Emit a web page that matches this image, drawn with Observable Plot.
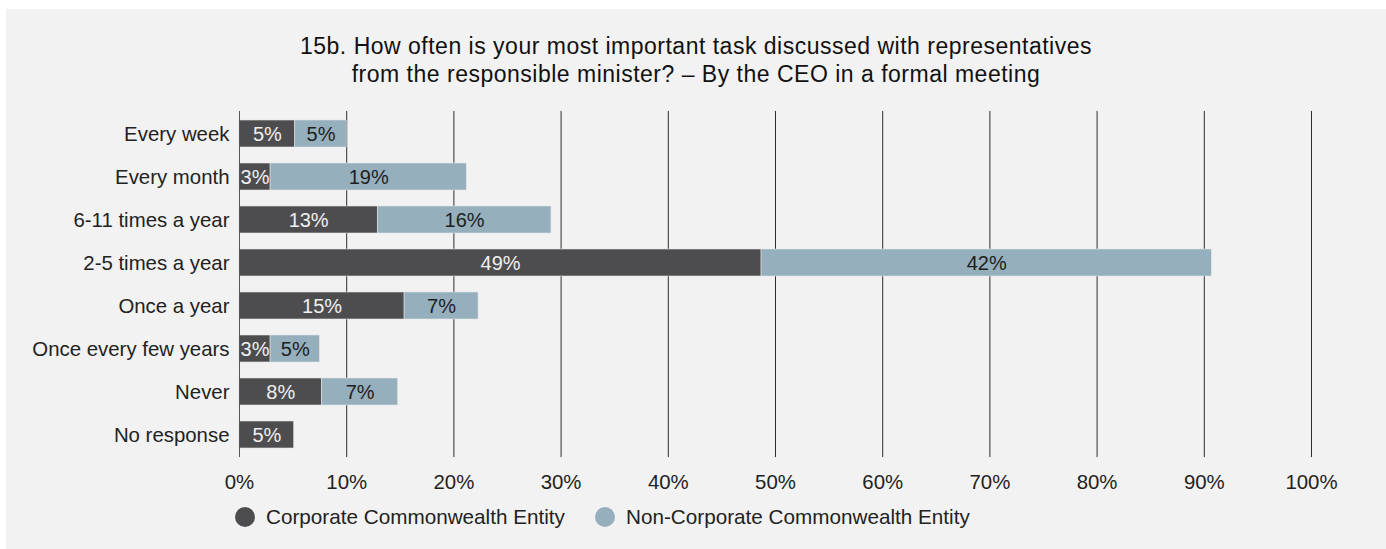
<!DOCTYPE html>
<html>
<head>
<meta charset="utf-8">
<script src="https://cdn.jsdelivr.net/npm/d3@7"></script>
<script src="https://cdn.jsdelivr.net/npm/@observablehq/plot@0.6"></script>
<style>
  html, body { margin: 0; padding: 0; background: #ffffff; }
  #panel {
    position: absolute; left: 6px; top: 9px; width: 1380px; height: 540px;
    background: #f2f2f2; font-family: "Liberation Sans", Arial, sans-serif;
  }
  #title {
    margin-top: 23px; text-align: center; font-size: 23px; letter-spacing: 0.5px; line-height: 28px; color: #111;
  }
  #chart { margin-top: 12px; height: 397px; }
  #chart svg { display: block; }
  #legend {
    margin-top: 10px; padding-left: 229px; display: flex; align-items: center;
    font-size: 20.7px; color: #222; height: 20px; line-height: 20px;
  }
  .sw { width: 20px; height: 20px; border-radius: 50%; display: inline-block; margin-right: 11px; }
  .item { display: flex; align-items: center; margin-right: 30px; }
</style>
</head>
<body>
<div id="panel">
  <div id="title">15b. How often is your most important task discussed with representatives<br>from the responsible minister? – By the CEO in a formal meeting</div>
  <div id="chart"></div>
  <div id="legend"></div>
</div>
<script>
const categories = ["Every week", "Every month", "6-11 times a year", "2-5 times a year", "Once a year", "Once every few years", "Never", "No response"];
const seriesNames = ["Corporate Commonwealth Entity", "Non-Corporate Commonwealth Entity"];
const seriesColors = ["#4d4d4f", "#95afbd"];
const corporate = [5.2, 2.9, 12.9, 48.7, 15.4, 2.9, 7.7, 5.1];
const nonCorporate = [4.8, 18.3, 16.2, 42.0, 6.9, 4.6, 7.1, 0];
const corporateLabels = ["5%", "3%", "13%", "49%", "15%", "3%", "8%", "5%"];
const nonCorporateLabels = ["5%", "19%", "16%", "42%", "7%", "5%", "7%", ""];
const xTicks = [0, 10, 20, 30, 40, 50, 60, 70, 80, 90, 100];
const xTickLabels = ["0%", "10%", "20%", "30%", "40%", "50%", "60%", "70%", "80%", "90%", "100%"];

const rows = [];
categories.forEach((c, i) => {
  rows.push({category: c, series: seriesNames[0], value: corporate[i], label: corporateLabels[i]});
  rows.push({category: c, series: seriesNames[1], value: nonCorporate[i], label: nonCorporateLabels[i]});
});

const font = "Liberation Sans, Arial, sans-serif";

const chart = Plot.plot({
  width: 1380,
  height: 397,
  marginLeft: 233,
  marginRight: 75,
  marginTop: 11,
  marginBottom: 40,
  style: {background: "transparent", fontFamily: font, fontSize: "20.4px", color: "#222"},
  x: {domain: [0, 100], label: null, ticks: xTicks, tickFormat: d => xTickLabels[xTicks.indexOf(d)], tickSize: 0, tickPadding: 17},
  y: {domain: categories, label: null, paddingInner: 0.37, paddingOuter: 0.185, tickSize: 0, tickPadding: 10},
  color: {domain: seriesNames, range: seriesColors},
  marks: [
    Plot.ruleX(xTicks.slice(1), {stroke: "#2e2e2e", strokeWidth: 1}),
    Plot.barX(rows, Plot.stackX({x: "value", y: "category", z: "series", fill: "series", order: seriesNames, stroke: "#e4e4e4", strokeWidth: 0.6})),
    Plot.ruleX([0], {stroke: "#555", strokeWidth: 1}),
    Plot.textX(rows, Plot.stackX({x: "value", y: "category", z: "series", order: seriesNames, text: d => d.series === seriesNames[0] ? d.label : null, fill: "#f0f0f0", fontSize: 20, dy: 1})),
    Plot.textX(rows, Plot.stackX({x: "value", y: "category", z: "series", order: seriesNames, text: d => d.series === seriesNames[1] ? d.label : null, fill: "#1e1e1e", fontSize: 20, dy: 1}))
  ]
});
document.getElementById("chart").appendChild(chart);

const legend = document.getElementById("legend");
seriesNames.forEach((name, i) => {
  const item = document.createElement("div");
  item.className = "item";
  const sw = document.createElement("span");
  sw.className = "sw";
  sw.style.background = seriesColors[i];
  item.appendChild(sw);
  const t = document.createElement("span");
  t.textContent = name;
  item.appendChild(t);
  legend.appendChild(item);
});
</script>
</body>
</html>
